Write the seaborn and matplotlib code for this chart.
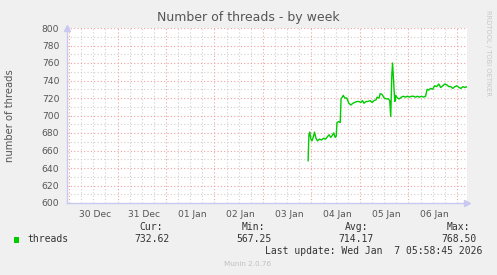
import matplotlib
matplotlib.use("Agg")
import matplotlib.pyplot as plt
import seaborn as sns
import pandas as pd
import numpy as np

# ---- data (hours after 2026-01-03 00:00, thread counts) ----
hours = [22.35, 22.75, 23.15, 23.75, 24.25, 25.0, 25.5, 26.25, 27.0, 28.0,
         29.0, 30.0, 31.0, 32.0, 32.75, 33.5, 34.25, 35.0, 35.75, 36.25,
         36.65, 37.5, 38.25, 38.65, 39.25, 39.75, 40.5, 41.5, 42.5, 43.5,
         44.5, 45.5, 46.5, 47.5, 48.5, 49.25, 50.0, 51.0, 52.0, 53.0,
         54.0, 55.0, 56.0, 56.5, 57.5, 58.0, 59.0, 60.0, 61.0, 62.0,
         62.75, 63.25, 63.75, 64.15, 64.65, 65.25, 65.75, 66.5, 67.5, 68.5,
         69.5, 70.5, 71.5, 72.5, 73.5, 74.5, 75.5, 76.5, 77.5, 78.5,
         79.5, 80.5, 81.25, 82.0, 83.0, 84.0, 85.0, 86.0, 87.0, 88.0,
         89.0, 90.0, 91.0, 92.0, 93.0, 94.0, 95.0, 96.0, 97.0, 98.0,
         99.0, 100.0, 101.0, 102.0]
threads = [648, 678, 681, 673, 671, 676, 681, 674, 671, 673,
           672, 674, 673, 676, 678, 675, 677, 680, 675, 676,
           692, 693, 692, 719, 721, 723, 720, 720, 714, 712,
           714, 715, 716, 716, 715, 717, 714, 716, 716, 717,
           715, 717, 718, 721, 720, 725, 724, 720, 719, 719,
           717, 699, 745, 760, 740, 716, 723, 720, 719, 721,
           722, 721, 722, 721, 722, 722, 721, 722, 721, 722,
           721, 722, 730, 729, 731, 730, 734, 733, 736, 732,
           734, 736, 735, 733, 733, 731, 733, 734, 732, 731,
           733, 732, 733, 732.62]
day_labels = ["30 Dec", "31 Dec", "01 Jan", "02 Jan", "03 Jan", "04 Jan", "05 Jan", "06 Jan"]
legend_name = "threads"
stat_names = ["Cur:", "Min:", "Avg:", "Max:"]
stat_values = ["732.62", "567.25", "714.17", "768.50"]
y_ticks = [600, 620, 640, 660, 680, 700, 720, 740, 760, 780, 800]

base = pd.Timestamp("2026-01-03 00:00")
df = pd.DataFrame({"time": [base + pd.Timedelta(hours=h) for h in hours],
                   "threads": threads})

W, H = 497, 275
fig = plt.figure(figsize=(W / 100, H / 100), dpi=100)
fig.patch.set_facecolor("#F0F0F0")
sns.set_style("white")
plt.rcParams["font.family"] = ["DejaVu Sans"]

L, R, T, B = 67, 467, 28, 203
ax = fig.add_axes([L / W, 1 - B / H, (R - L) / W, (B - T) / H])
ax.set_facecolor("white")

sns.lineplot(data=df, x="time", y="threads", ax=ax, color="#00CC00", linewidth=1.0)

x0 = pd.Timestamp("2025-12-30 00:00") - pd.Timedelta(hours=1)
x1 = pd.Timestamp("2026-01-07 05:00")
ax.set_xlim(x0, x1)
ax.set_ylim(600, 800)

# grid
day_starts = pd.date_range("2025-12-30", "2026-01-07", freq="D")
six_h = pd.date_range("2025-12-30", "2026-01-07 06:00", freq="6h")
minor_col = "#CFCFCF"
major_col = "#F2A0A0"
for t in six_h:
    if t.hour != 0:
        ax.axvline(t, color=minor_col, lw=0.8, ls=(0, (1, 2)), zorder=0)
for v in range(610, 800, 20):
    ax.axhline(v, color=minor_col, lw=0.8, ls=(0, (1, 2)), zorder=0)
for t in day_starts:
    ax.axvline(t, color=major_col, lw=0.8, ls=(0, (1, 2)), zorder=0.5)
for v in y_ticks[1:]:
    ax.axhline(v, color=major_col, lw=0.8, ls=(0, (1, 2)), zorder=0.5)

# ticks
ax.set_yticks(y_ticks)
ax.set_yticklabels([str(v) for v in y_ticks])
ax.set_yticks(list(range(610, 800, 20)), minor=True)
noon = [d + pd.Timestamp("2000-01-01 13:00").hour * pd.Timedelta(hours=1) for d in day_starts[:len(day_labels)]]
ax.set_xticks(noon)
ax.set_xticklabels(day_labels)
ax.set_xticks(list(day_starts), minor=True)
ax.tick_params(axis="both", which="major", labelsize=6.6, labelcolor="#555555")
ax.tick_params(axis="y", which="major", length=3, color="#BBBBBB", width=0.8, pad=2.5)
ax.tick_params(axis="y", which="minor", length=2, color="#CCCCCC", width=0.8)
ax.tick_params(axis="x", which="major", length=0, pad=5)
ax.tick_params(axis="x", which="minor", length=3, color=major_col, width=0.8)
ax.set_xlabel("")
ax.set_ylabel("number of threads", fontsize=7.2, color="#555555")
ax.yaxis.set_label_coords(-(L - 15.5) / (R - L), 0.5)

for s in ["top", "right"]:
    ax.spines[s].set_visible(False)
for s in ["left", "bottom"]:
    ax.spines[s].set_color("#C8C8F0")
    ax.spines[s].set_linewidth(1.0)

# axis arrows
ax.plot([1.0], [0.0], marker=">", color="#C8C8F0", markersize=4, transform=ax.transAxes, clip_on=False)
ax.plot([0.0], [1.0], marker="^", color="#C8C8F0", markersize=4, transform=ax.transAxes, clip_on=False)

def fx(px):
    return px / W

def fy(py):
    return 1 - py / H

fig.text(fx(248.5), fy(17), "Number of threads - by week", ha="center", va="center",
         fontsize=9.0, color="#555555")
fig.text(fx(488), fy(53), "RRDTOOL / TOBI OETIKER", ha="center", va="center",
         rotation=-90, fontsize=4.9, color="#C8C8C8")

mono = "DejaVu Sans Mono"
fig.patches.append(plt.Rectangle((fx(14), fy(243)), 5 / W, 6 / H, transform=fig.transFigure,
                                 facecolor="#00CC00", edgecolor="none"))
fig.text(fx(27), fy(239.5), legend_name, ha="left", va="center", family=mono,
         fontsize=7, color="#333333")
name_right = [163, 265, 368, 470]
val_right = [170, 272, 374, 477]
for n, v, nr, vr in zip(stat_names, stat_values, name_right, val_right):
    fig.text(fx(nr), fy(227.5), n, ha="right", va="center", family=mono, fontsize=7, color="#333333")
    fig.text(fx(vr), fy(239.5), v, ha="right", va="center", family=mono, fontsize=7, color="#333333")
fig.text(fx(482), fy(251.5), "Last update: Wed Jan  7 05:58:45 2026", ha="right", va="center",
         family=mono, fontsize=7, color="#333333")
fig.text(fx(248), fy(264), "Munin 2.0.76", ha="center", va="center", fontsize=5.2, color="#C0C0C0")

fig.savefig("out.png", dpi=100, facecolor=fig.get_facecolor())
